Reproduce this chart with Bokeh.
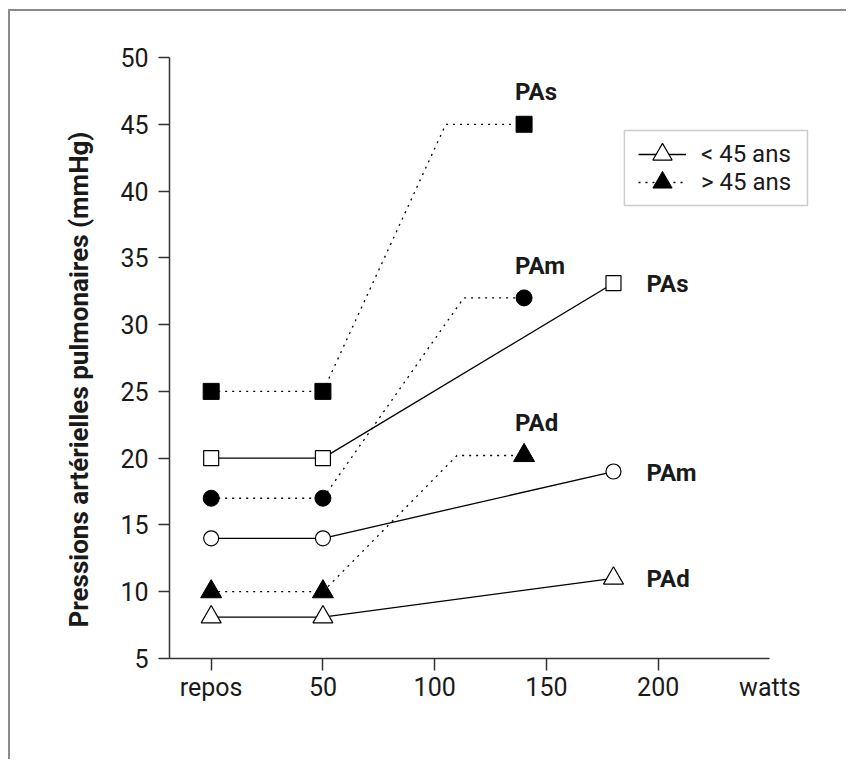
from bokeh.plotting import figure
from bokeh.models import (Range1d, FixedTicker, ColumnDataSource, Legend, LegendItem,
                          BoxAnnotation)
from bokeh.core.properties import value
from bokeh.embed import file_html
from bokeh.resources import INLINE

# ---------------- data ----------------
x_ticks = [0, 50, 100, 150, 200]
x_tick_labels = ["repos", "50", "100", "150", "200"]
x_unit_label = "watts"
x_axis_end = 250
y_ticks = [5, 10, 15, 20, 25, 30, 35, 40, 45, 50]
y_label = "Pressions artérielles pulmonaires (mmHg)"

series = ["PAs", "PAm", "PAd"]
markers = ["square", "circle", "triangle"]

# < 45 ans (open markers, solid lines)
young_x = [0, 50, 180]
young_PAs = [20, 20, 33.1]
young_PAm = [14, 14, 19]
young_PAd = [8.1, 8.1, 11]

# > 45 ans (filled markers, dotted lines)
old_x = [0, 50, 140]
old_PAs = [25, 25, 45]
old_PAm = [17, 17, 32]
old_PAd = [10, 10, 20.2]
# dotted paths bend before reaching the last point
old_path_x_PAs = [0, 50, 105, 140]
old_path_x_PAm = [0, 50, 113, 140]
old_path_x_PAd = [0, 50, 110, 140]

legend_labels = ["< 45 ans", "> 45 ans"]

# ---------------- figure ----------------
TXT = "#1a1a1a"
AX = "#333333"
FONT = "Roboto"
X0, X1 = -18.65, 277.1
Y_AXIS_MIN, Y_AXIS_MAX = 5, 50
Y0 = 1.78

p = figure(width=838, height=750,
           x_range=Range1d(X0, X1), y_range=Range1d(Y0, Y_AXIS_MAX),
           output_backend="svg", toolbar_location=None,
           min_border_left=159, min_border_right=18,
           min_border_top=46, min_border_bottom=60)
p.styles = {"margin-left": "8px", "margin-top": "9px",
            "border-left": "2px solid #8a8a8a", "border-top": "2px solid #8a8a8a"}
p.grid.visible = False
p.outline_line_color = None
p.background_fill_color = "white"
p.border_fill_color = "white"

# axes
p.xaxis.fixed_location = Y_AXIS_MIN
p.xaxis.bounds = (X0, x_axis_end)
p.xaxis.ticker = FixedTicker(ticks=x_ticks)
p.xaxis.major_label_overrides = {t: l for t, l in zip(x_ticks, x_tick_labels)}
p.yaxis.ticker = FixedTicker(ticks=y_ticks)
p.yaxis.bounds = (Y_AXIS_MIN, Y_AXIS_MAX)
p.yaxis.axis_label = y_label
for ax in (p.xaxis, p.yaxis):
    ax.axis_line_color = AX
    ax.axis_line_width = 1.5
    ax.major_tick_line_color = AX
    ax.major_tick_line_width = 1.5
    ax.major_tick_in = 0
    ax.major_tick_out = 11
    ax.minor_tick_line_color = None
    ax.major_label_text_font = FONT
    ax.major_label_text_font_size = "25px"
    ax.major_label_text_color = TXT
p.xaxis.major_tick_out = 12
p.xaxis.major_label_standoff = 3
p.yaxis.major_label_standoff = 10
p.yaxis.axis_label_text_font = FONT
p.yaxis.axis_label_text_font_size = "26px"
p.yaxis.axis_label_text_font_style = "bold"
p.yaxis.axis_label_text_color = TXT
p.yaxis.axis_label_standoff = 23

# unit label at the end of the x axis
p.text(x=[x_axis_end], y=[Y_AXIS_MIN], text=[x_unit_label], text_font=value(FONT),
       text_font_size="25px", text_color=TXT, text_align="center",
       text_baseline="top", y_offset=15)

young = {"PAs": young_PAs, "PAm": young_PAm, "PAd": young_PAd}
old = {"PAs": old_PAs, "PAm": old_PAm, "PAd": old_PAd}
old_paths = {"PAs": old_path_x_PAs, "PAm": old_path_x_PAm, "PAd": old_path_x_PAd}

rend = {}
for name, mk in zip(series, markers):
    ys = young[name]
    l1 = p.line(young_x, ys, line_color="black", line_width=1.3)
    oy = old[name]
    path_y = [oy[0], oy[1], oy[2], oy[2]]
    l2 = p.line(old_paths[name], path_y, line_color="black", line_width=1.3,
                line_dash="2 5")
    sz = 20 if mk == "triangle" else 15
    m1 = p.scatter(young_x, ys, marker=mk, size=sz, fill_color="white",
                   line_color="black", line_width=1.2)
    m2 = p.scatter(old_x, oy, marker=mk, size=sz + 1, fill_color="black",
                   line_color="black", line_width=1)
    rend[name] = (l1, m1, l2, m2)

# series labels
young_lab = ColumnDataSource(dict(x=[young_x[-1]] * 3,
                                  y=[young_PAs[-1], young_PAm[-1], young_PAd[-1]],
                                  t=series))
old_lab = ColumnDataSource(dict(x=[old_x[-1]] * 3,
                                y=[old_PAs[-1], old_PAm[-1], old_PAd[-1]],
                                t=series))
p.text(x="x", y="y", text="t", source=young_lab, text_font=value(FONT),
       text_font_size="24px", text_font_style="bold", text_color=TXT,
       text_align="left", text_baseline="middle", x_offset=33, y_offset=1)
p.text(x="x", y="y", text="t", source=old_lab, text_font=value(FONT),
       text_font_size="24px", text_font_style="bold", text_color=TXT,
       text_align="left", text_baseline="alphabetic", x_offset=-9, y_offset=-32)

# legend frame (layout only)
p.add_layout(BoxAnnotation(left=184.9, right=266.8, top=44.54, bottom=38.92,
                           fill_color="white", fill_alpha=1,
                           line_color="#555555", line_width=1.5, level="annotation"))


def make_legend(label, renderers, loc):
    lg = Legend(items=[LegendItem(label=label, renderers=renderers)], location=loc)
    lg.label_text_font = FONT
    lg.label_text_font_size = "24px"
    lg.label_text_color = TXT
    lg.glyph_width = 48
    lg.glyph_height = 50
    lg.label_standoff = 15
    lg.padding = 0
    lg.spacing = 0
    lg.margin = 0
    lg.border_line_color = None
    lg.background_fill_alpha = 0
    return lg


l1, m1, l2, m2 = rend["PAd"]
p.add_layout(make_legend(legend_labels[0], [l1, m1], (469, 522)))
p.add_layout(make_legend(legend_labels[1], [l2, m2], (469, 494)))

open("out.html", "w").write(file_html(p, INLINE))
